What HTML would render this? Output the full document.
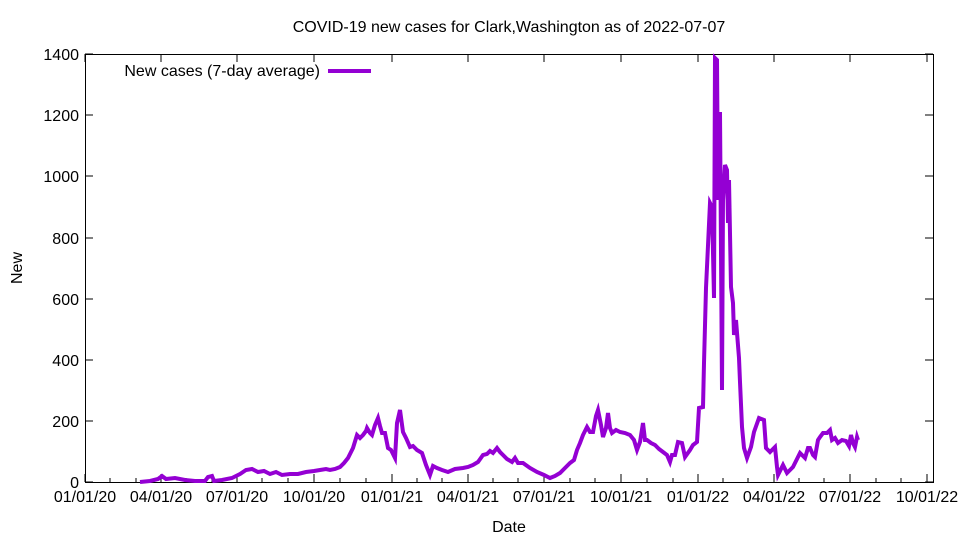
<!DOCTYPE html>
<html><head><meta charset="utf-8"><style>body{margin:0;background:#fff}svg{display:block}text{font-family:"Liberation Sans",sans-serif;font-size:16px;fill:#000}</style></head><body>
<svg width="960" height="540" xmlns="http://www.w3.org/2000/svg">
<rect width="960" height="540" fill="#fff"/>
<text x="509" y="32" text-anchor="middle">COVID-19 new cases for Clark,Washington as of 2022-07-07</text>
<rect x="85.5" y="54.5" width="848" height="428" fill="none" stroke="#000" stroke-width="1"/>
<g stroke="#000" stroke-width="1">
<path d="M85 482h8M85 421h8M85 360h8M85 299h8M85 238h8M85 176h8M85 115h8M85 54h8M933 482h-8M933 421h-8M933 360h-8M933 299h-8M933 238h-8M933 176h-8M933 115h-8M933 54h-8"/>
<path d="M85 482v-8M161 482v-8M237 482v-8M314 482v-8M392 482v-8M468 482v-8M544 482v-8M621 482v-8M698 482v-8M774 482v-8M850 482v-8M927 482v-8M85 54v8M161 54v8M237 54v8M314 54v8M392 54v8M468 54v8M544 54v8M621 54v8M698 54v8M774 54v8M850 54v8M927 54v8"/>
<path d="M110 482v-4M136 482v-4M186 482v-4M212 482v-4M262 482v-4M288 482v-4M340 482v-4M366 482v-4M417 482v-4M442 482v-4M493 482v-4M518 482v-4M570 482v-4M595 482v-4M647 482v-4M673 482v-4M723 482v-4M748 482v-4M799 482v-4M824 482v-4M876 482v-4M901 482v-4"/>
</g>
<g text-anchor="end">
<text x="79" y="488">0</text><text x="79" y="427">200</text><text x="79" y="366">400</text><text x="79" y="305">600</text><text x="79" y="244">800</text><text x="79" y="182">1000</text><text x="79" y="121">1200</text><text x="79" y="60">1400</text>
</g>
<g text-anchor="middle">
<text x="85" y="502">01/01/20</text><text x="161" y="502">04/01/20</text><text x="237" y="502">07/01/20</text><text x="314" y="502">10/01/20</text><text x="392" y="502">01/01/21</text><text x="468" y="502">04/01/21</text><text x="544" y="502">07/01/21</text><text x="621" y="502">10/01/21</text><text x="698" y="502">01/01/22</text><text x="774" y="502">04/01/22</text><text x="850" y="502">07/01/22</text><text x="927" y="502">10/01/22</text>
<text x="509" y="532">Date</text>
</g>
<text transform="translate(22,268) rotate(-90)" text-anchor="middle">New</text>
<text x="320" y="76" text-anchor="end">New cases (7-day average)</text>
<line x1="328" y1="71" x2="371" y2="71" stroke="#9400d3" stroke-width="4"/>
<polyline fill="none" stroke="#9400d3" stroke-width="4" stroke-linejoin="miter" points="140,482 150,481 158,479 162,476 166,479 175,478 185,480 195,481 205,481 208,477 212,476 214,481 222,480 232,478 240,474 246,470 252,469 258,472 264,471 270,474 276,472 282,475 290,474 298,474 306,472 314,471 320,470 326,469 330,470 335,469 340,467 344,463 348,458 353,448 357,435 360,438 363,435 366,431 367,428 370,433 372,435 375,425 378,418 380,426 382,433 385,433 388,448 391,450 395,458 397,423 400,410 403,432 406,438 410,447 413,446 417,450 422,453 426,465 430,475 433,466 437,468 442,470 448,472 455,469 463,468 468,467 473,465 478,462 483,455 487,454 490,451 493,453 497,448 500,452 503,455 507,459 512,462 515,458 518,463 523,463 530,468 537,472 544,475 550,478 555,476 560,473 565,468 570,463 574,460 577,450 580,443 583,435 587,427 590,432 593,432 596,416 598,410 601,425 603,437 606,428 608,413 610,428 612,433 616,430 620,432 625,433 630,435 634,440 637,450 640,442 643,423 645,440 647,440 651,443 655,445 659,449 663,452 667,455 670,462 672,455 675,455 678,442 682,443 685,457 690,450 693,445 697,442 699,408 703,407 704,363 706,288 710,203 712,207 714,298 715,58 717,60 718,200 720,112 722,390 723,200 725,165 727,170 728,223 729,180 731,287 733,303 734,335 736,320 739,358 740,382 742,427 744,448 747,458 751,447 754,432 759,418 764,420 766,448 770,452 775,447 777,467 778,475 783,465 787,473 793,467 800,453 805,458 808,448 810,448 813,455 815,457 818,440 820,437 823,433 827,433 830,430 832,440 835,438 838,443 842,440 846,441 849,446 851,435 853,443 855,447 857,437 858,440"/>
</svg>
</body></html>
